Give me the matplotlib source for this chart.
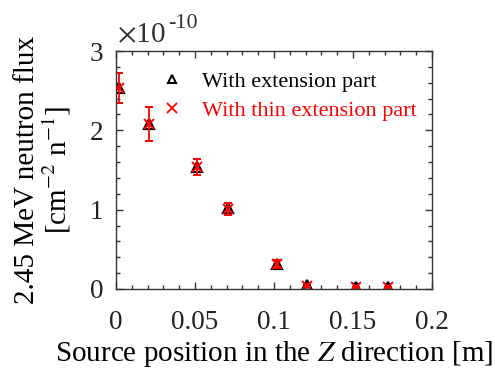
import matplotlib
matplotlib.use("Agg")
import matplotlib.pyplot as plt
from matplotlib.ticker import MultipleLocator
from matplotlib.lines import Line2D
import numpy as np

# source position [m]
z_pos = [0.002, 0.021, 0.051, 0.071, 0.102, 0.121, 0.152, 0.172]
# flux (x 1e-10) with extension part
flux_ext = [2.53, 2.08, 1.54, 1.02, 0.32, 0.05, 0.02, 0.02]
# flux (x 1e-10) with thin extension part, and its error
flux_thin = [2.53, 2.08, 1.54, 1.01, 0.32, 0.04, 0.02, 0.02]
err_thin = [0.19, 0.22, 0.10, 0.08, 0.05, 0.02, 0.01, 0.01]

plt.rcParams['font.family'] = ['Liberation Serif', 'DejaVu Serif']
plt.rcParams['mathtext.fontset'] = 'stix'

fig = plt.figure(figsize=(4.95, 3.69), dpi=100)
ax = fig.add_axes([116/495, 1 - 289/369, (432-116)/495, (289-51)/369])

ax.plot(z_pos, flux_ext, linestyle='none', marker='^', markersize=7,
        markerfacecolor='none', markeredgecolor='black', markeredgewidth=1.6)
ax.errorbar(z_pos, flux_thin, yerr=err_thin, linestyle='none', marker='x',
            markersize=6.5, color='red', ecolor='red', elinewidth=1.3,
            capsize=3, capthick=1.3, markeredgewidth=1.4)

ax.set_xlim(0, 0.2)
ax.set_ylim(0, 3)
ax.xaxis.set_minor_locator(MultipleLocator(0.01))
ax.yaxis.set_major_locator(MultipleLocator(1))
ax.yaxis.set_minor_locator(MultipleLocator(0.2))
ax.set_xticks([0, 0.05, 0.1, 0.15, 0.2])
ax.set_xticklabels(['0', '0.05', '0.1', '0.15', '0.2'])
ax.tick_params(which='both', direction='in', top=True, right=True,
               labelsize=19.5, width=1, colors='#333333', labelcolor='#222222')
ax.tick_params(axis='x', which='major', length=5, pad=15)
ax.tick_params(axis='y', which='major', length=5, pad=9)
ax.tick_params(which='minor', length=3)
for s in ax.spines.values():
    s.set_linewidth(1)
    s.set_color('#333333')

ax.set_xlabel('Source position in the $Z$ direction [m]', fontsize=21,
              labelpad=3)
ax.set_ylabel('2.45 MeV neutron flux\n[cm$^{-2}$ n$^{-1}$]', fontsize=21,
              linespacing=1.05, labelpad=12)

fig.text(117/495, 1 - 42/369, r'$\times$10', fontsize=21, color='#333333')
fig.text(168/495, 1 - 28/369, '-10', fontsize=16, color='#333333')

handles = [
    Line2D([], [], linestyle='none', marker='^', markersize=6,
           markerfacecolor='none', markeredgecolor='black', markeredgewidth=1.5),
    Line2D([], [], linestyle='none', marker='x', markersize=7,
           color='red', markeredgewidth=1.3),
]
leg = ax.legend(handles, ['With extension part', 'With thin extension part'],
                loc='upper right', bbox_to_anchor=(1.015, 0.997),
                frameon=False, fontsize=16,
                handletextpad=0.6, borderaxespad=0.5, handlelength=1.5,
                labelspacing=0.35)
for txt, c in zip(leg.get_texts(), ['black', 'red']):
    txt.set_color(c)

fig.savefig('out.png', dpi=100)
